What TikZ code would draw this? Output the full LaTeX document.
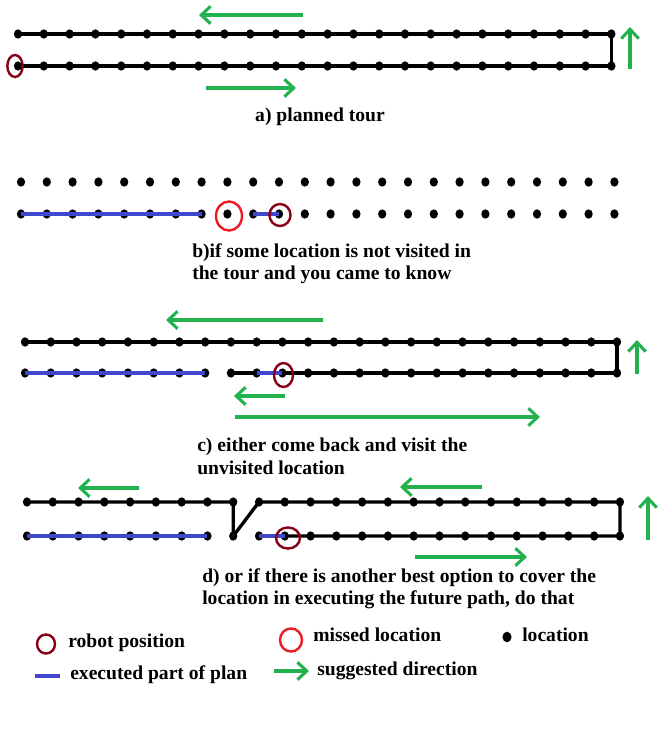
\documentclass[tikz,border=0pt]{standalone}
\usepackage{fontspec}
\setmainfont{Liberation Serif}
\usetikzlibrary{arrows.meta, shapes.geometric}

\definecolor{hintgreen}{RGB}{34,177,76}
\definecolor{doneblue}{RGB}{63,72,204}
\definecolor{robotred}{RGB}{136,0,21}
\definecolor{missred}{RGB}{237,28,36}

\tikzset{
  loc/.style={ellipse,fill=black,inner sep=0pt,minimum width=6.2pt,minimum height=7pt},
  tour/.style={black,line width=2.5pt},
  done/.style={doneblue,line width=2.6pt},
  hint/.style={hintgreen,line width=2.3pt,-{Straight Barb[length=7pt,width=13pt,line width=2.3pt]}},
  robot/.style={ellipse,draw=robotred,line width=1.8pt,inner sep=0pt},
  missed/.style={ellipse,draw=missred,line width=1.8pt,inner sep=0pt},
  lbl/.style={font=\bfseries\fontsize{14.7pt}{17pt}\selectfont,inner sep=0pt,align=left}
}

\begin{document}
\begin{tikzpicture}[x=0.75pt,y=-0.75pt]
  \useasboundingbox (0,0) rectangle (667,743);

  % a) the planned tour
  \foreach \i in {0,...,23}{
    \node[loc] (a-t-\i) at ({18+25.8*\i},34) {};
    \node[loc] (a-b-\i) at ({18+25.8*\i},66) {};
  }
  \draw[tour] (a-b-0.center) -- (a-b-23.center) -- (a-t-23.center) -- (a-t-0.center);
  \node[robot,minimum width=11.5pt,minimum height=16.5pt] (a-robot) at (15,66) {};
  \coordinate (a-h1s) at (303,15);  \coordinate (a-h1e) at (199,15);
  \coordinate (a-h2s) at (206,88);  \coordinate (a-h2e) at (296,88);
  \coordinate (a-h3s) at (630,69);  \coordinate (a-h3e) at (630,27);
  \draw[hint] (a-h1s) -- (a-h1e);
  \draw[hint] (a-h2s) -- (a-h2e);
  \draw[hint] (a-h3s) -- (a-h3e);
  \node[lbl,anchor=base] (a-text) at (320,121.5) {a) planned tour};

  % b) one location is missed
  \foreach \i in {0,...,23}{
    \node[loc] (b-t-\i) at ({21+25.8*\i},182) {};
    \node[loc] (b-b-\i) at ({21+25.8*\i},214) {};
  }
  \draw[done] (b-b-0.center) -- (b-b-7.center);
  \draw[done] (b-b-9.center) -- (b-b-10.center);
  \node[missed,minimum width=19.5pt,minimum height=21.8pt] (b-miss) at (229,216) {};
  \node[robot,minimum width=15.8pt,minimum height=16.5pt] (b-robot) at (280,215) {};
  \node[lbl,anchor=north west] (b-text) at (192,243)
    {b)if some location is not visited in\\the tour and you came to know};

  % c) come back first
  \foreach \i in {0,...,23}{
    \node[loc] (c-t-\i) at ({25+25.74*\i},342) {};
    \node[loc] (c-b-\i) at ({25+25.74*\i},373) {};
  }
  \draw[tour] (c-b-8.center) -- (c-b-23.center) -- (c-t-23.center) -- (c-t-0.center);
  \draw[done] (c-b-0.center) -- (c-b-7.center);
  \draw[done] (c-b-9.center) -- (c-b-10.center);
  \node[robot,minimum width=14.3pt,minimum height=18pt] (c-robot) at (283.5,375) {};
  \coordinate (c-h1s) at (323,320);  \coordinate (c-h1e) at (166,320);
  \coordinate (c-h2s) at (285,396);  \coordinate (c-h2e) at (234,396);
  \coordinate (c-h3s) at (235,417);  \coordinate (c-h3e) at (540,417);
  \coordinate (c-h4s) at (637,374);  \coordinate (c-h4e) at (637,340);
  \draw[hint] (c-h1s) -- (c-h1e);
  \draw[hint] (c-h2s) -- (c-h2e);
  \draw[hint] (c-h3s) -- (c-h3e);
  \draw[hint] (c-h4s) -- (c-h4e);
  \node[lbl,anchor=north west] (c-text) at (197,438)
    {c) either come back and visit the\\unvisited location};

  % d) pick the missed location up on the way
  \foreach \i in {0,...,23}{
    \node[loc] (d-t-\i) at ({27+25.78*\i},502) {};
    \node[loc] (d-b-\i) at ({27+25.78*\i},536) {};
  }
  \draw[tour] (d-t-0.center) -- (d-t-8.center) -- (d-b-8.center) -- (d-t-9.center)
    -- (d-t-23.center) -- (d-b-23.center) -- (d-b-10.center);
  \draw[done] (d-b-0.center) -- (d-b-7.center);
  \draw[done] (d-b-9.center) -- (d-b-10.center);
  \node[robot,minimum width=18pt,minimum height=15.8pt] (d-robot) at (288,538) {};
  \coordinate (d-h1s) at (139,488);  \coordinate (d-h1e) at (78,488);
  \coordinate (d-h2s) at (482,487);  \coordinate (d-h2e) at (400,487);
  \coordinate (d-h3s) at (415,557);  \coordinate (d-h3e) at (527,557);
  \coordinate (d-h4s) at (648,540);  \coordinate (d-h4e) at (648,496);
  \draw[hint] (d-h1s) -- (d-h1e);
  \draw[hint] (d-h2s) -- (d-h2e);
  \draw[hint] (d-h3s) -- (d-h3e);
  \draw[hint] (d-h4s) -- (d-h4e);
  \node[lbl,anchor=north west] (d-text) at (202,568)
    {d) or if there is another best option to cover the\\location in executing the future path, do that};

  % legend
  \node[robot,minimum width=13.5pt,minimum height=14.3pt] (leg-robot) at (46,644) {};
  \node[lbl,anchor=base west] (leg-robot-text) at (68,647.5) {robot position};
  \node[missed,minimum width=16.5pt,minimum height=17.3pt] (leg-miss) at (291,640) {};
  \node[lbl,anchor=base west] (leg-miss-text) at (313,641.5) {missed location};
  \node[loc,minimum width=6.8pt,minimum height=8pt] (leg-loc) at (507,637) {};
  \node[lbl,anchor=base west] (leg-loc-text) at (522,641.5) {location};
  \coordinate (leg-done-s) at (35,676);  \coordinate (leg-done-e) at (60,676);
  \draw[done] (leg-done-s) -- (leg-done-e);
  \node[lbl,anchor=base west] (leg-done-text) at (70,679.5) {executed part of plan};
  \coordinate (leg-hint-s) at (274,671);  \coordinate (leg-hint-e) at (309,671);
  \draw[hint] (leg-hint-s) -- (leg-hint-e);
  \node[lbl,anchor=base west] (leg-hint-text) at (317,675.5) {suggested direction};
\end{tikzpicture}
\end{document}
